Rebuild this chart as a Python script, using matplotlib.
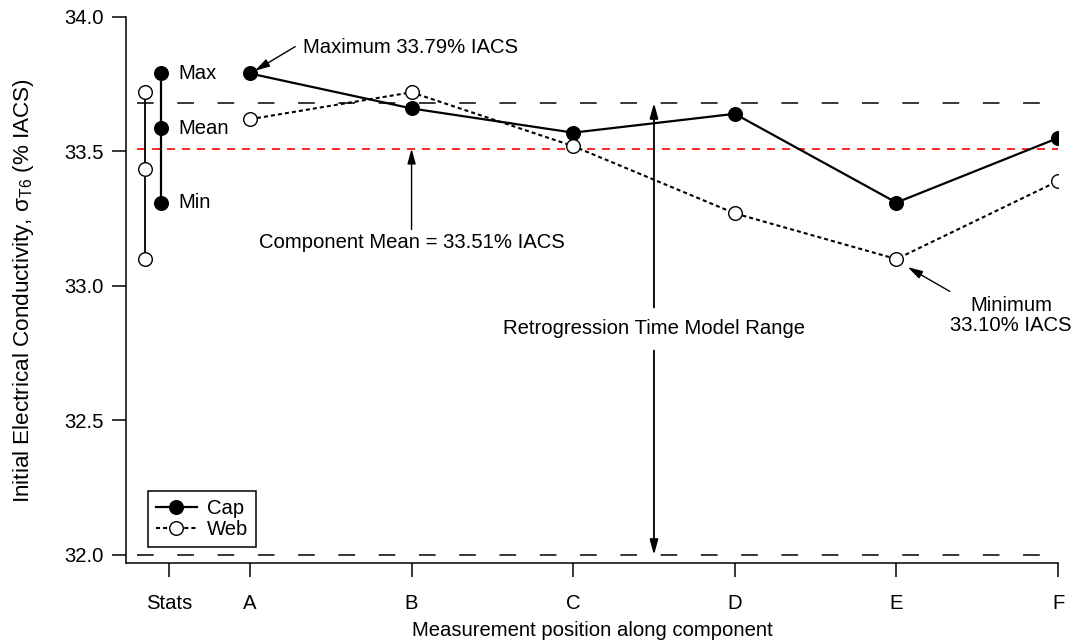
import numpy as np
import matplotlib
matplotlib.use('Agg')
import matplotlib.pyplot as plt

plt.rcParams['font.family'] = ['Liberation Sans', 'DejaVu Sans']
plt.rcParams['mathtext.default'] = 'regular'
plt.rcParams['lines.scale_dashes'] = False

# measurement positions and conductivity values (% IACS)
positions = ['A', 'B', 'C', 'D', 'E', 'F']
cap = [33.79, 33.66, 33.57, 33.64, 33.31, 33.55]
web = [33.62, 33.72, 33.52, 33.27, 33.10, 33.39]
component_mean = 33.51
model_upper = 33.68
model_lower = 32.0
yticks = [32.0, 32.5, 33.0, 33.5, 34.0]

fs = 14.6
x = np.arange(1, len(positions) + 1)

fig = plt.figure(figsize=(10.73, 6.43), dpi=100)
ax = fig.add_axes([126 / 1073, 1 - 563 / 643, 932 / 1073, 546 / 643])

# reference lines
ax.hlines([model_upper, model_lower], 0.30, 6.0, colors='black', lw=1.1,
          linestyles=[(0, (12, 17))])
ax.hlines(component_mean, 0.30, 6.0, colors='red', lw=1.2,
          linestyles=[(0, (5.8, 5))])

# data series
ax.plot(x, cap, color='black', lw=1.6, marker='o', ms=9.8,
        mfc='black', mec='black', label='Cap', zorder=4)
ax.plot(x, web, color='black', lw=1.5, ls=(0, (2.9, 2.2)), marker='o', ms=9.8,
        mfc='white', mec='black', mew=1.0, label='Web', zorder=4)

# stats column
cap_stats = [max(cap), np.mean(cap), min(cap)]
web_stats = [max(web), np.mean(web), min(web)]
ax.plot([0.35, 0.35], [web_stats[2], web_stats[0]], color='black', lw=1.3, zorder=3)
ax.plot([0.35] * 3, web_stats, ls='none', marker='o', ms=9.8,
        mfc='white', mec='black', mew=1.0, zorder=4)
ax.plot([0.45, 0.45], [cap_stats[2], cap_stats[0]], color='black', lw=1.6, zorder=3)
ax.plot([0.45] * 3, cap_stats, ls='none', marker='o', ms=9.8,
        mfc='black', mec='black', zorder=4)
for lab, v in zip(['Max', 'Mean', 'Min'], cap_stats):
    ax.text(0.555, v, lab, fontsize=fs, ha='left', va='center')

arrow = dict(arrowstyle='-|>,head_length=0.9,head_width=0.25', color='black',
             lw=1.0, shrinkA=0, shrinkB=0)

ax.annotate('', xy=(1.03, 33.80), xytext=(1.28, 33.89), arrowprops=arrow)
ax.text(1.33, 33.886, 'Maximum 33.79% IACS', fontsize=fs, ha='left', va='center')

ax.annotate('', xy=(2.0, component_mean), xytext=(2.0, 33.21), arrowprops=arrow)
ax.text(2.0, 33.16, 'Component Mean = 33.51% IACS', fontsize=fs,
        ha='center', va='center')

ax.annotate('', xy=(3.5, model_upper), xytext=(3.5, 32.92), arrowprops=dict(arrow, lw=1.3))
ax.annotate('', xy=(3.5, model_lower), xytext=(3.5, 32.76), arrowprops=dict(arrow, lw=1.3))
ax.text(3.5, 32.84, 'Retrogression Time Model Range', fontsize=fs,
        ha='center', va='center')

ax.annotate('', xy=(5.07, 33.07), xytext=(5.33, 32.98), arrowprops=arrow)
ax.text(5.71, 32.89, 'Minimum\n33.10% IACS', fontsize=fs, ha='center',
        va='center', linespacing=1.05)

# axes styling
ax.set_xlim(0.233, 6.0)
ax.set_ylim(31.97, 34.0)
ax.set_xticks([0.5] + list(x))
ax.set_xticklabels(['Stats'] + positions)
ax.set_yticks(yticks)
ax.set_yticklabels([f'{t:.1f}' for t in yticks])
ax.tick_params(direction='out', length=10, width=1.1, labelsize=fs)
ax.tick_params(axis='x', pad=12)
ax.tick_params(axis='y', pad=6)
for s in ['top', 'right']:
    ax.spines[s].set_visible(False)
for s in ['left', 'bottom']:
    ax.spines[s].set_linewidth(1.1)

ax.set_xlabel('Measurement position along component', fontsize=fs, labelpad=6)
ax.set_ylabel('Initial Electrical Conductivity, σ$_{T6}$ (% IACS)', fontsize=16.2,
              labelpad=20)

leg = ax.legend(loc='lower left', bbox_to_anchor=(0.0236, 0.0293), borderaxespad=0,
                fontsize=fs, fancybox=False, framealpha=1, edgecolor='black',
                handlelength=2.0, handletextpad=0.5, labelspacing=0.1,
                borderpad=0.4)
leg.get_frame().set_linewidth(1.1)

fig.savefig('out.png', dpi=100)
